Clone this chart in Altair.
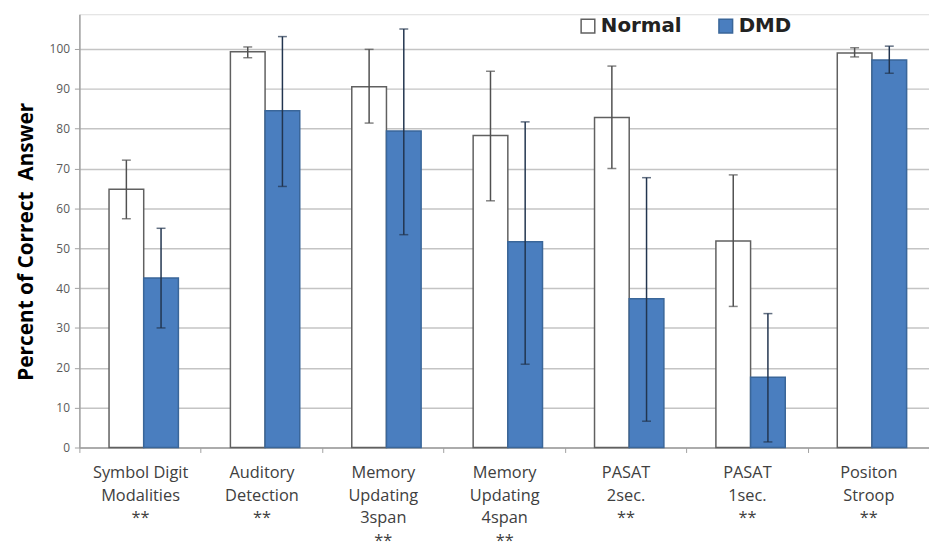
import altair as alt
import pandas as pd

tests = ["Symbol Digit|Modalities|**", "Auditory|Detection|**", "Memory|Updating|3span|**",
         "Memory|Updating|4span|**", "PASAT|2sec.|**", "PASAT|1sec.|**", "Positon|Stroop|**"]
groups = ["Normal", "DMD"]
normal_mean = [64.8, 99.3, 90.5, 78.3, 82.8, 51.8, 99.0]
normal_lo = [57.4, 97.8, 81.4, 61.9, 70.0, 35.4, 98.0]
normal_hi = [72.1, 100.5, 99.9, 94.4, 95.7, 68.4, 100.3]
dmd_mean = [42.5, 84.5, 79.4, 51.6, 37.3, 17.6, 97.2]
dmd_lo = [30.0, 65.5, 53.4, 20.9, 6.6, 1.4, 93.9]
dmd_hi = [55.0, 103.1, 105.0, 81.7, 67.7, 33.6, 100.7]
y_ticks = [0, 10, 20, 30, 40, 50, 60, 70, 80, 90, 100]
y_title = "Percent of Correct\u00a0\u00a0Answer"

rows = []
for i, t in enumerate(tests):
    rows.append({"test": t, "group": "Normal", "value": normal_mean[i], "lo": normal_lo[i], "hi": normal_hi[i]})
    rows.append({"test": t, "group": "DMD", "value": dmd_mean[i], "lo": dmd_lo[i], "hi": dmd_hi[i]})
df = pd.DataFrame(rows)

x_enc = alt.X("test:N", sort=tests, scale=alt.Scale(paddingInner=0, paddingOuter=0),
              axis=alt.Axis(title=None, labelAngle=0, labelExpr="split(datum.label, '|')",
                            tickBand="extent", labelFontSize=16.5, labelColor="#404040",
                            labelFont="Open Sans", labelLineHeight=23, labelBaseline="top",
                            labelPadding=12, tickSize=5, tickColor="#a0a0a0",
                            domainColor="#a0a0a0", domainWidth=1.5, grid=False))
xo_enc = alt.XOffset("group:N", sort=groups,
                     scale=alt.Scale(paddingOuter=0.75, paddingInner=0, align=0.57))
y_scale = alt.Scale(domain=[0, 108.7], nice=False, zero=True)

base = alt.Chart(df)

bars = base.mark_bar(strokeWidth=1.5).encode(
    x=x_enc,
    xOffset=xo_enc,
    y=alt.Y("value:Q", scale=y_scale,
            axis=alt.Axis(title=y_title, values=y_ticks,
                          titleFontSize=21, titleFont="Open Sans", titleFontWeight="bold",
                          titleColor="#000000", titlePadding=13, titleY=229,
                          labelFontSize=12, labelColor="#595959", labelFont="Open Sans",
                          labelPadding=5, tickSize=5, tickColor="#a0a0a0",
                          domainColor="#a0a0a0", domainWidth=1.5,
                          grid=True, gridColor="#c4c4c4", gridWidth=1.5)),
    fill=alt.Fill("group:N", sort=groups,
                  scale=alt.Scale(domain=groups, range=["#ffffff", "#4a7ebf"]),
                  legend=alt.Legend(orient="none", legendX=503, legendY=2, direction="horizontal",
                                    title=None, labelFontSize=20, labelFont="DejaVu Sans",
                                    labelFontWeight="bold", labelColor="#222222",
                                    symbolType="square", symbolSize=190,
                                    symbolStrokeColor="#555555", symbolStrokeWidth=1.5,
                                    columnPadding=34, labelOffset=3)),
    stroke=alt.Stroke("group:N", sort=groups,
                      scale=alt.Scale(domain=groups, range=["#606060", "#3a6699"]), legend=None),
)

err_scale = alt.Scale(domain=groups, range=["#505050", "#22354f"])

rules = base.mark_rule(strokeWidth=1.5).encode(
    x=alt.X("test:N", sort=tests),
    xOffset=xo_enc,
    y=alt.Y("lo:Q", scale=y_scale),
    y2="hi:Q",
    color=alt.Color("group:N", scale=err_scale, legend=None),
)

caps = base.transform_fold(["lo", "hi"], as_=["end", "endval"]).mark_tick(
    thickness=1.5, size=9).encode(
    x=alt.X("test:N", sort=tests),
    xOffset=xo_enc,
    y=alt.Y("endval:Q", scale=y_scale),
    color=alt.Color("group:N", scale=err_scale, legend=None),
)

chart = alt.layer(bars, rules, caps).resolve_scale(color="independent").properties(
    width=857, height=437,
    autosize=alt.AutoSizeParams(type="none"),
    padding={"left": 72, "top": 4, "right": 0, "bottom": 94},
).configure_view(stroke=None).configure(background="#ffffff")

chart.save("out.html", embed_options={"renderer": "svg", "actions": False})
